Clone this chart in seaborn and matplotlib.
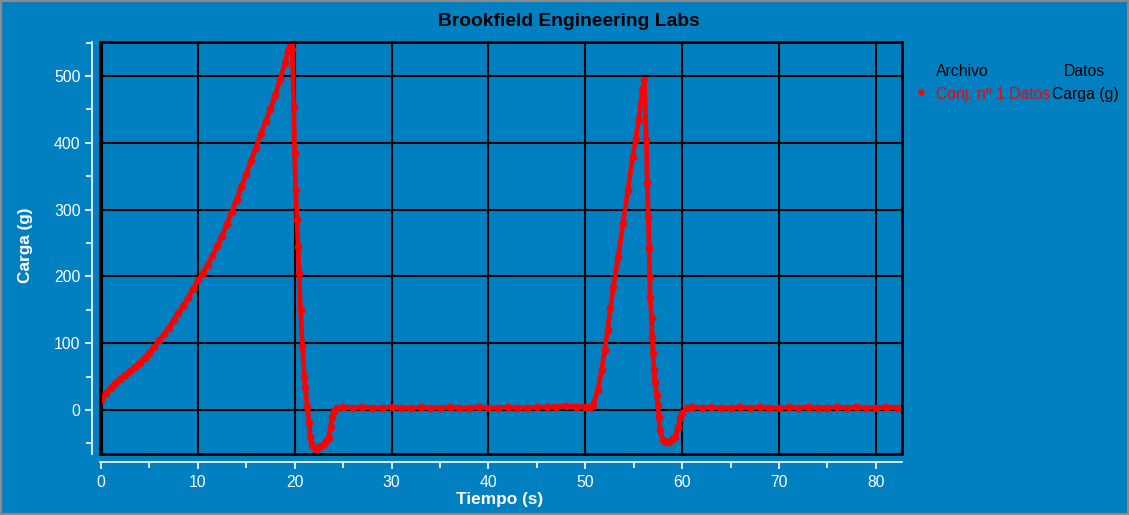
import matplotlib
matplotlib.use("Agg")
import matplotlib.pyplot as plt
import seaborn as sns
import pandas as pd
from matplotlib.lines import Line2D
from matplotlib.patches import Rectangle

# Load (g) versus time (s) for the test run
time_s = [
    0, 0.5, 1.0, 1.5, 2, 2.5, 3, 3.5, 4, 4.5, 5, 5.5, 6, 6.5, 7, 7.5, 8, 8.5, 9, 9.5,
    10, 10.5, 11, 11.5, 12, 12.5, 13, 13.5, 14, 14.5, 15, 15.5, 16, 16.5, 17, 17.5,
    18, 18.5, 19, 19.3, 19.6,
    19.75, 19.9, 20.0, 20.1, 20.25, 20.35, 20.45, 20.6, 20.8, 21.0, 21.1, 21.3, 21.5,
    21.6, 21.8, 22.2, 22.5, 22.9, 23.2, 23.5, 23.7, 23.9, 24.1, 24.4, 25,
    26, 27, 28, 29, 30, 31, 32, 33, 34, 35, 36, 37, 38, 39, 40, 41, 42, 43, 44, 45,
    46, 47, 48, 49, 50, 50.5,
    50.8, 51.3, 51.7, 52.0, 52.3, 52.6, 52.9, 53.4, 53.9, 54.4, 54.9, 55.2, 55.5,
    55.9, 56.1,
    56.3, 56.4, 56.5, 56.6, 56.65, 56.7, 56.85, 56.9, 57.0, 57.1, 57.2, 57.4, 57.5,
    57.6, 57.7, 58.0, 58.3, 58.6, 59.0, 59.3, 59.6, 59.8, 60.0, 60.5,
    61, 62, 63, 64, 65, 66, 67, 68, 69, 70, 71, 72, 73, 74, 75, 76, 77, 78, 79, 80,
    81, 82.2,
]
load_g = [
    15, 25, 33, 40, 46, 52, 58, 64, 71, 78, 85, 94, 104, 113, 123, 134, 145, 156, 168, 181,
    194, 205, 217, 230, 245, 261, 278, 297, 315, 334, 353, 373, 393, 413, 432, 451,
    472, 495, 520, 538, 550,
    540, 454, 385, 329, 284, 244, 205, 150, 95, 50, 34, 5, -20,
    -40, -52, -60, -56, -52, -47, -42, -25, -10, -2, 3, 4,
    3, 4, 3, 3, 4, 3, 3, 4, 3, 3, 4, 3, 3, 4, 3, 3, 4, 3, 3, 4,
    4, 5, 6, 5, 5, 4,
    7, 30, 60, 90, 120, 152, 184, 229, 280, 329, 379, 405, 434,
    479, 494,
    404, 340, 289, 242, 199, 169, 138, 109, 85, 60, 42, 22, 8,
    -10, -30, -45, -48, -48, -44, -40, -25, -12, -5, 3,
    4, 3, 4, 3, 3, 4, 3, 4, 3, 3, 4, 3, 4, 3, 3, 4, 3, 4, 3, 3,
    4, 3,
]

x_ticks = [0, 10, 20, 30, 40, 50, 60, 70, 80]
y_ticks = [0, 100, 200, 300, 400, 500]

BG = "#0080C0"
W, H = 1129, 515

sns.set_style("white")
plt.rcParams["font.family"] = ["Liberation Sans", "DejaVu Sans"]

fig = plt.figure(figsize=(W / 100, H / 100), dpi=100, facecolor=BG)
ax = fig.add_axes([100 / W, (H - 454) / H, 802 / W, 412 / H])
ax.set_facecolor(BG)

df = pd.DataFrame({"Tiempo (s)": time_s, "Carga (g)": load_g})
sns.lineplot(data=df, x="Tiempo (s)", y="Carga (g)", sort=False, ax=ax,
             color="#ff0000", linewidth=3.4, marker="o", markersize=5.5,
             markeredgewidth=0, zorder=5)

ax.set_xlim(-0.1, 82.7)
ax.set_ylim(-66, 551)
ax.set_xticks(x_ticks)
ax.set_yticks(y_ticks)
ax.set_xticks([5, 15, 25, 35, 45, 55, 65, 75], minor=True)
ax.set_yticks([-50, 50, 150, 250, 350, 450, 550], minor=True)

# black grid and frame
ax.grid(True, which="major", color="black", linewidth=1.5, zorder=1)
ax.set_axisbelow(True)
ax.add_patch(Rectangle((0, 0), 1, 1, transform=ax.transAxes, fill=False,
                       edgecolor="black", linewidth=2, clip_on=False, zorder=6))
ax.axvline(0, color="black", linewidth=3, zorder=4)

# white detached axes
for side in ("top", "right"):
    ax.spines[side].set_visible(False)
for side in ("left", "bottom"):
    ax.spines[side].set_visible(True)
    ax.spines[side].set_color("white")
    ax.spines[side].set_linewidth(1.2)
    ax.spines[side].set_position(("outward", 6))
ax.tick_params(which="both", bottom=True, left=True, top=False, right=False,
               colors="white", labelcolor="white", direction="out",
               width=1.2, labelsize=11.3)
ax.tick_params(which="major", length=5)
ax.tick_params(which="minor", length=4)
ax.tick_params(axis="x", pad=4)
ax.tick_params(axis="y", pad=3)

ax.set_xlabel("Tiempo (s)", color="white", fontsize=12.4, fontweight="bold")
ax.set_ylabel("Carga (g)", color="white", fontsize=12.4, fontweight="bold")
ax.xaxis.set_label_coords((500 - 100) / 802, (454 - 492) / 412)
ax.yaxis.set_label_coords((33 - 100) / 802, (454 - 245) / 412)

fig.text(569 / W, 1 - 21 / H, "Brookfield Engineering Labs", ha="center", va="center",
         fontsize=13.9, fontweight="bold", color="black")

# legend block
fig.text(936 / W, 1 - 71 / H, "Archivo", ha="left", va="center", fontsize=11.3, color="black")
fig.text(1105 / W, 1 - 71 / H, "Datos", ha="right", va="center", fontsize=11.3, color="black")
fig.add_artist(Line2D([921 / W], [1 - 92 / H], transform=fig.transFigure, marker="o",
                      color="#ff0000", markersize=4.5, markeredgewidth=0, linestyle="none"))
fig.text(936 / W, 1 - 95 / H, "Conj. nº 1 Datos", ha="left", va="center",
         fontsize=11.3, color="#ff0000")
fig.text(1052 / W, 1 - 95 / H, "Carga (g)", ha="left", va="center", fontsize=11.3,
         color="black")

# outer border
fig.add_artist(Rectangle((0, 0), 1, 1, transform=fig.transFigure, fill=False,
                         edgecolor="#8a8a8a", linewidth=3))

fig.savefig("out.png", dpi=100, facecolor=BG)
